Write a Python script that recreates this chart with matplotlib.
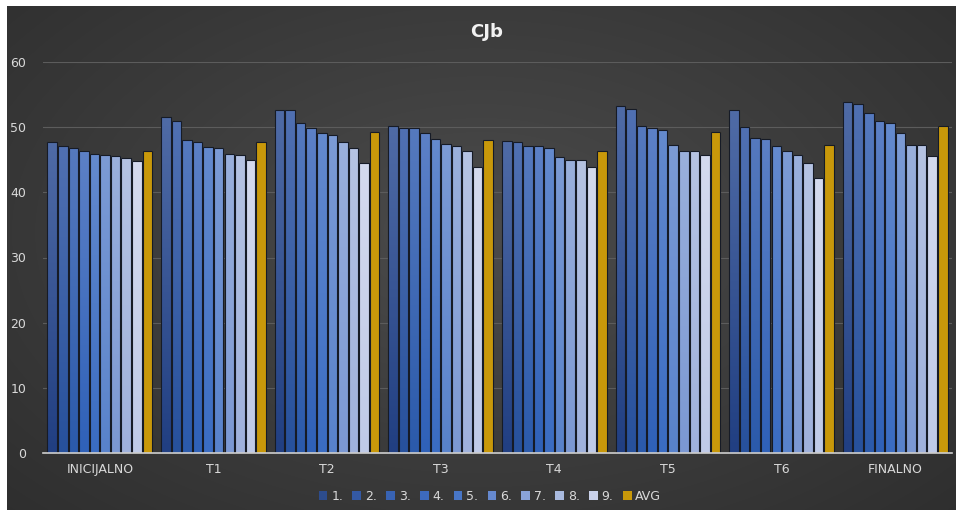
import numpy as np
import matplotlib
matplotlib.use("Agg")
import matplotlib.pyplot as plt
from matplotlib.colors import LinearSegmentedColormap
from matplotlib.patches import Patch

categories = ["INICIJALNO", "T1", "T2", "T3", "T4", "T5", "T6", "FINALNO"]
series_names = ["1.", "2.", "3.", "4.", "5.", "6.", "7.", "8.", "9.", "AVG"]

s1 = [47.8, 51.6, 52.7, 50.2, 47.9, 53.2, 52.7, 53.9]
s2 = [47.1, 50.9, 52.7, 49.9, 47.7, 52.8, 50.1, 53.6]
s3 = [46.75, 48.0, 50.7, 49.9, 47.1, 50.2, 48.4, 52.1]
s4 = [46.4, 47.8, 49.8, 49.1, 47.1, 49.9, 48.2, 51.0]
s5 = [45.9, 47.0, 49.1, 48.2, 46.75, 49.6, 47.1, 50.7]
s6 = [45.8, 46.75, 48.75, 47.4, 45.4, 47.3, 46.3, 49.1]
s7 = [45.5, 45.9, 47.8, 47.1, 45.0, 46.4, 45.8, 47.3]
s8 = [45.3, 45.7, 46.75, 46.4, 45.0, 46.4, 44.45, 47.3]
s9 = [44.8, 45.0, 44.45, 43.9, 43.9, 45.8, 42.15, 45.6]
avg = [46.3, 47.8, 49.3, 48.0, 46.3, 49.3, 47.3, 50.2]
series = [s1, s2, s3, s4, s5, s6, s7, s8, s9, avg]

yticks = [0, 10, 20, 30, 40, 50, 60]

bottom_cols = ["#213f82", "#27519c", "#2b5aab", "#2f61b8", "#3a6cc2", "#5882cb",
               "#7b98d3", "#9fb1dc", "#bfcae7", "#c8980a"]
top_cols = ["#4f6ba6", "#5070b2", "#5579be", "#5c80c6", "#648ace", "#7c9bd5",
            "#9ab0dc", "#b5c3e3", "#d4daee", "#c8980a"]
legend_cols = ["#2d4c8c", "#3459a3", "#3863b3", "#3d6abd", "#4876c6", "#6689cf",
               "#8aa3d8", "#a9badf", "#c9d1ea", "#c8980a"]

W, H = 956, 515
fig = plt.figure(figsize=(W / 100, H / 100), dpi=100, facecolor="white")

# dark chart-area background with radial gradient
bg = fig.add_axes([7 / W, 5 / H, 1 - 7 / W, 1 - 11 / H])
bg.set_axis_off()
yy, xx = np.mgrid[0:1:300j, 0:1:500j]
r = np.sqrt(((xx - 0.5) / 0.75) ** 2 + ((yy - 0.45) / 0.85) ** 2)
val = np.clip(0.295 - 0.12 * r, 0.16, 0.295)
bgimg = np.dstack([val, val, val])
bg.imshow(bgimg, extent=[0, 1, 0, 1], aspect="auto", interpolation="bilinear")
bg.set_xlim(0, 1)
bg.set_ylim(0, 1)

ax = fig.add_axes([43 / W, 1 - 453 / H, (952 - 43) / W, (453 - 62) / H])
ax.patch.set_alpha(0)

n = len(series)
x = np.arange(len(categories))
slot = 0.093
bw = 0.084
grad = np.linspace(0, 1, 64).reshape(-1, 1)
for i, (vals, bc, tc) in enumerate(zip(series, bottom_cols, top_cols)):
    pos = x + (i - (n - 1) / 2) * slot
    bars = ax.bar(pos, vals, width=bw, color=tc, edgecolor="none", zorder=3)
    cmap = LinearSegmentedColormap.from_list("g%d" % i, [bc, tc])
    for b in bars:
        x0 = b.get_x()
        h = b.get_height()
        im = ax.imshow(grad, extent=[x0, x0 + b.get_width(), 0, h], origin="lower",
                       aspect="auto", cmap=cmap, zorder=3.5, interpolation="bilinear")
        im.set_clip_path(b)
    ax.bar(pos, vals, width=bw, facecolor="none", edgecolor="#161b26",
           linewidth=0.8, zorder=4)

ax.set_xlim(-0.5, len(categories) - 0.5)
ax.set_ylim(0, 60)
ax.set_yticks(yticks)
ax.set_xticks(x)
ax.set_xticklabels(categories)
ax.tick_params(axis="both", length=0, colors="#d9d9d9", labelsize=9)
ax.tick_params(axis="y", pad=12)
ax.tick_params(axis="x", pad=7)
ax.grid(axis="y", color="#5c5c5c", linewidth=0.8, zorder=0)
ax.set_axisbelow(True)
for s in ["top", "right", "left"]:
    ax.spines[s].set_visible(False)
ax.spines["bottom"].set_color("#cfcfcf")
ax.spines["bottom"].set_linewidth(1.2)
ax.spines["bottom"].set_zorder(5)

fig.text(487 / W, 1 - 32 / H, "CJb", color="#f2f2f2", fontsize=13,
         fontweight="bold", ha="center", va="center")

handles = [Patch(facecolor=c, edgecolor="none") for c in legend_cols]
leg = fig.legend(handles, series_names, loc="center", ncol=10,
                 bbox_to_anchor=(490 / W, 1 - 496 / H), frameon=False,
                 fontsize=9, handlelength=0.7, handleheight=0.7,
                 handletextpad=0.3, columnspacing=0.75, labelcolor="#d9d9d9")

fig.savefig("out.png", dpi=100, facecolor="white")
